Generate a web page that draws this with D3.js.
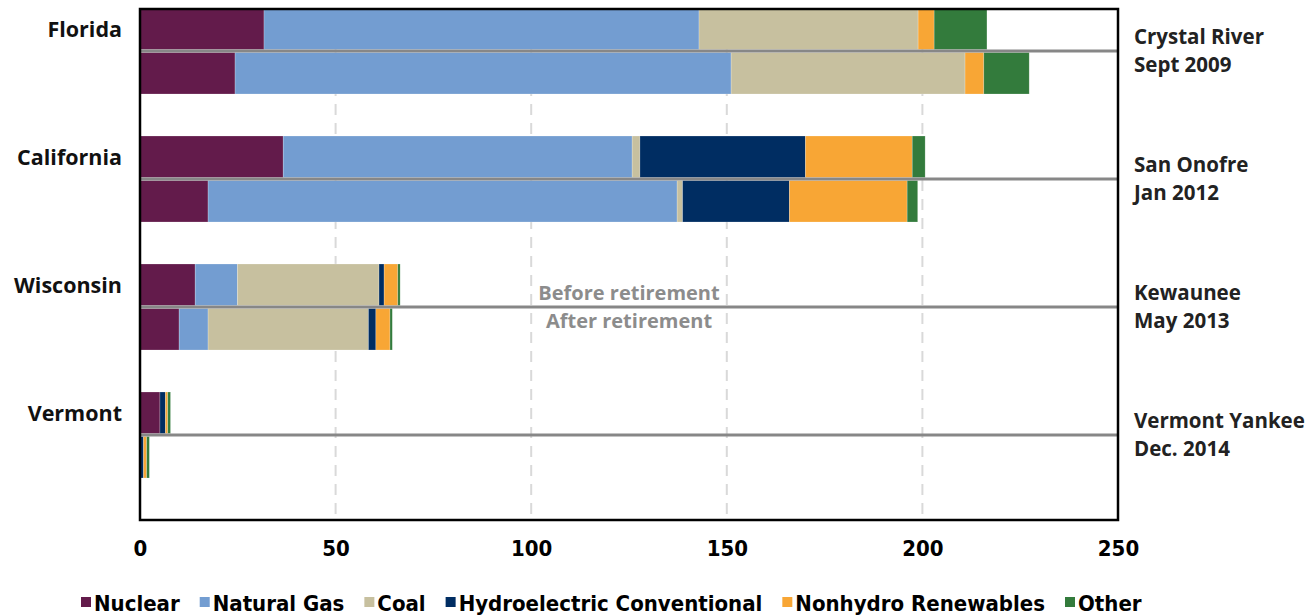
<!DOCTYPE html>
<html>
<head>
<meta charset="utf-8">
<script src="https://cdn.jsdelivr.net/npm/d3@7"></script>
<style>
  body { margin: 0; background: #fff; }
  svg text { font-family: 'Open Sans', Lato, sans-serif; font-weight: 700; }
  svg text.narrow { font-family: 'Liberation Sans Narrow', 'DejaVu Sans Condensed', sans-serif; font-weight: 700; }
</style>
</head>
<body>
<svg class="chart" width="1314" height="616"></svg>
<script>
'use strict';

// states, top to bottom
const states = ['Florida', 'California', 'Wisconsin', 'Vermont'];
const plants = [
  ['Crystal River', 'Sept 2009'],
  ['San Onofre', 'Jan 2012'],
  ['Kewaunee', 'May 2013'],
  ['Vermont Yankee', 'Dec. 2014']
];
const periods = ['Before retirement', 'After retirement'];
const sources = ['Nuclear', 'Natural Gas', 'Coal', 'Hydroelectric Conventional', 'Nonhydro Renewables', 'Other'];
const colors = ['#631b4b', '#739dd1', '#c7c09f', '#002d62', '#f8a635', '#337b3c'];

// generation per source, one row per state: [before, after]
const nuclear = [[31.7, 24.3], [36.6, 17.4], [14.1, 10.0], [5.1, 0]];
const naturalGas = [[111.2, 126.8], [89.2, 119.9], [10.8, 7.4], [0, 0]];
const coal = [[56.0, 59.8], [2.0, 1.4], [36.2, 41.0], [0, 0]];
const hydro = [[0, 0], [42.3, 27.3], [1.3, 1.9], [1.4, 0.9]];
const renewables = [[4.1, 4.8], [27.3, 30.1], [3.5, 3.6], [0.6, 0.8]];
const other = [[13.5, 11.6], [3.3, 2.7], [0.6, 0.6], [0.7, 0.7]];
const xTicks = [0, 50, 100, 150, 200, 250];

const seriesValues = [nuclear, naturalGas, coal, hydro, renewables, other];

const svg = d3.select('.chart'),
  plotLeft = 140,
  plotRight = 1118,
  plotTop = 9,
  plotBottom = 520;

const x = d3.scaleLinear().domain([0, 250]).range([plotLeft, plotRight]);
const y = d3.scaleBand().domain(states).range([plotTop - 1, plotBottom]);
const sub = d3.scaleBand().domain([0, 1]).range([0, 86]);
const color = d3.scaleOrdinal(sources, colors);

// rows for the stack: one per state + period
const rows = [];
states.forEach((s, i) => {
  [0, 1].forEach(p => {
    const row = { state: s, period: p };
    sources.forEach((src, k) => (row[src] = seriesValues[k][i][p]));
    rows.push(row);
  });
});
const stacked = d3.stack().keys(sources)(rows);

// gridlines
svg.append('g')
  .selectAll('line')
  .data(xTicks.slice(1, -1))
  .join('line')
  .attr('x1', d => x(d))
  .attr('x2', d => x(d))
  .attr('y1', plotTop)
  .attr('y2', plotBottom)
  .attr('stroke', '#d9d9d9')
  .attr('stroke-width', 2)
  .attr('stroke-dasharray', '11 8');

// bars
svg.append('g')
  .selectAll('g')
  .data(stacked)
  .join('g')
  .attr('fill', d => color(d.key))
  .selectAll('rect')
  .data(d => d)
  .join('rect')
  .attr('x', d => x(d[0]))
  .attr('width', d => x(d[1]) - x(d[0]))
  .attr('y', d => y(d.data.state) + sub(d.data.period) + (d.data.period ? 1.5 : 0))
  .attr('height', sub.bandwidth() - 1.5)
  .attr('stroke', 'rgba(255,255,255,0.35)')
  .attr('stroke-width', 0.6);

// separators between before / after
svg.append('g')
  .selectAll('line')
  .data(states)
  .join('line')
  .attr('x1', plotLeft)
  .attr('x2', plotRight)
  .attr('y1', d => y(d) + sub.bandwidth())
  .attr('y2', d => y(d) + sub.bandwidth())
  .attr('stroke', '#878787')
  .attr('stroke-width', 3);

// frame
svg.append('rect')
  .attr('x', plotLeft)
  .attr('y', plotTop)
  .attr('width', plotRight - plotLeft)
  .attr('height', plotBottom - plotTop)
  .attr('fill', 'none')
  .attr('stroke', '#000')
  .attr('stroke-width', 2.5);

// x axis
const xAxis = svg.append('g')
  .attr('transform', `translate(0,${plotBottom})`)
  .call(d3.axisBottom(x).tickValues(xTicks).tickSize(0).tickPadding(20));
xAxis.select('.domain').remove();
xAxis.selectAll('text')
  .attr('class', 'narrow')
  .attr('font-size', 22)
  .attr('fill', '#000');

// state labels
svg.append('g')
  .selectAll('text')
  .data(states)
  .join('text')
  .attr('x', 122)
  .attr('y', d => y(d) + sub.bandwidth() / 2)
  .attr('dy', '0.35em')
  .attr('text-anchor', 'end')
  .attr('font-size', 21.5)
  .attr('fill', '#111')
  .text(d => d);

// plant labels
const plantLabels = svg.append('g')
  .selectAll('text')
  .data(states)
  .join('text')
  .attr('x', 1134)
  .attr('y', d => y(d) + sub.bandwidth())
  .attr('font-size', 20.5)
  .attr('fill', '#222');
plantLabels.append('tspan')
  .attr('x', 1134)
  .attr('dy', '-0.35em')
  .text((d, i) => plants[i][0]);
plantLabels.append('tspan')
  .attr('x', 1134)
  .attr('dy', '1.35em')
  .text((d, i) => plants[i][1]);

// before / after annotation
svg.append('g')
  .selectAll('text')
  .data(periods)
  .join('text')
  .attr('x', 629)
  .attr('y', (d, i) => y('Wisconsin') + sub.bandwidth() + (i ? 14 : -14))
  .attr('dy', '0.35em')
  .attr('text-anchor', 'middle')
  .attr('font-size', 20)
  .attr('fill', '#8c8c8c')
  .text(d => d);

// legend
const legend = svg.append('g').attr('transform', 'translate(0,603)');
let legendX = 81;
sources.forEach(src => {
  const item = legend.append('g');
  item.append('rect')
    .attr('x', legendX)
    .attr('y', -6)
    .attr('width', 10)
    .attr('height', 10)
    .attr('fill', color(src));
  const label = item.append('text')
    .attr('class', 'narrow')
    .attr('x', legendX + 13)
    .attr('dy', '0.35em')
    .attr('font-size', 22)
    .attr('fill', '#000')
    .text(src);
  legendX += 13 + label.node().getComputedTextLength() + 20;
});
</script>
</body>
</html>
